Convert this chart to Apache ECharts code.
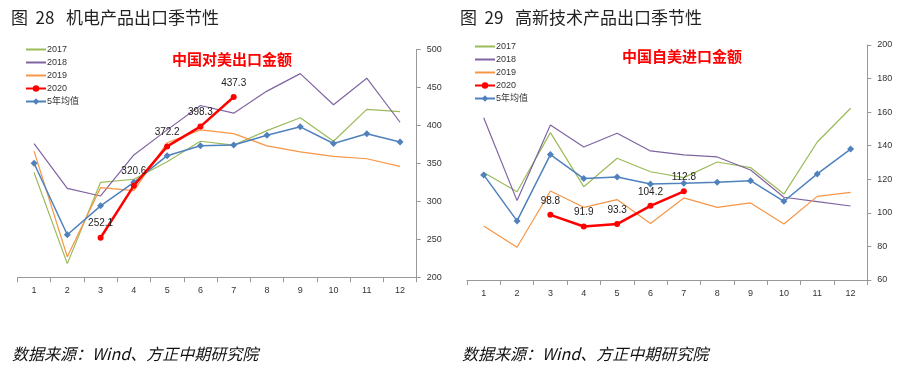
<!DOCTYPE html>
<html><head><meta charset="utf-8">
<script src="https://cdn.jsdelivr.net/npm/echarts@6/dist/echarts.min.js"></script>
<style>html,body{margin:0;padding:0;background:#fff}#c{width:903px;height:368px}</style>
</head><body><div id="c"></div>
<script>
const months = ['1','2','3','4','5','6','7','8','9','10','11','12'];
// Chart 28: 机电产品出口
const a2017 = [338,218,325,329,352,379,374,393,410,379,421,418];
const a2018 = [376,317,307,361,394,426,416,445,468,427,462,404];
const a2019 = [366,227,318,314,377,394,389,373,365,359,356,346];
const a2020 = [null,null,252.1,320.6,372.2,398.3,437.3,null,null,null,null,null];
const aAvg  = [350,256,294,325,360,373,374,387,398,376,389,378];
// Chart 29: 高新技术产品出口
const b2017 = [124,112.6,147.8,115.6,132.5,124.5,121,130.3,127,111.2,142.2,162.3];
const b2018 = [156.7,107.3,152.3,139.2,147.4,136.9,134.5,133.3,125.5,109.3,106.7,104.1];
const b2019 = [92.2,79.5,113,103.3,107.9,93.6,108.9,103.3,105.9,93.4,109.8,112.2];
const b2020 = [null,null,98.8,91.9,93.3,104.2,112.8,null,null,null,null,null];
const bAvg  = [122.6,95.2,134.7,120.4,121.4,117.2,117.6,118.2,119.2,106.9,123.2,138];
const seriesNames = ['2017','2018','2019','2020','5年均值'];

const C = {g:'#9bbb59', p:'#8064a2', o:'#f79646', r:'#ff0000', b:'#4f81bd'};
const chart = echarts.init(document.getElementById('c'), null, {renderer:'canvas'});
const fontCN = '"Noto Sans CJK SC","Noto Sans",sans-serif';

function mkSeries(idx, arrs){
  const [s17,s18,s19,s20,avg] = arrs;
  const base = {type:'line', xAxisIndex:idx, yAxisIndex:idx, animation:false};
  return [
    Object.assign({}, base, {name:'2017', data:s17, symbol:'none', lineStyle:{color:C.g,width:1.2}, itemStyle:{color:C.g}}),
    Object.assign({}, base, {name:'2018', data:s18, symbol:'none', lineStyle:{color:C.p,width:1.2}, itemStyle:{color:C.p}}),
    Object.assign({}, base, {name:'2019', data:s19, symbol:'none', lineStyle:{color:C.o,width:1.2}, itemStyle:{color:C.o}}),
    Object.assign({}, base, {name:'5年均值', data:avg, symbol:'diamond', symbolSize:7, lineStyle:{color:C.b,width:1.5}, itemStyle:{color:C.b}}),
    Object.assign({}, base, {name:'2020', data:s20, symbol:'circle', symbolSize:6, z:5, lineStyle:{color:C.r,width:2.5}, itemStyle:{color:C.r},
      label:{show:true, position:'top', distance:6, fontSize:10, color:'#222', fontFamily:'"Liberation Sans",sans-serif'}})
  ];
}

function xAx(i){
  return {type:'category', gridIndex:i, data:months, boundaryGap:true,
    axisLine:{lineStyle:{color:'#999',width:1}},
    axisTick:{show:true, alignWithLabel:false, lineStyle:{color:'#999'}, length:5, inside:false},
    axisLabel:{fontSize:9, color:'#333', margin:9, fontFamily:'"Liberation Sans",sans-serif'},
    splitLine:{show:false}};
}
function yAx(i, min, max, interval){
  return {type:'value', gridIndex:i, position:'right', min:min, max:max, interval:interval,
    axisLine:{show:true, lineStyle:{color:'#999'}},
    axisTick:{show:true, lineStyle:{color:'#999'}, length:4},
    axisLabel:{fontSize:9, color:'#333', margin:10, fontFamily:'"Liberation Sans",sans-serif'},
    splitLine:{show:false}};
}
function legend(left, top){
  const plain = {itemStyle:{opacity:0}};
  return {orient:'vertical', left:left, top:top, itemGap:4, itemWidth:20, itemHeight:8,
    data:[
      Object.assign({name:'2017'}, plain),
      Object.assign({name:'2018'}, plain),
      Object.assign({name:'2019'}, plain),
      {name:'2020'},
      {name:'5年均值'}
    ],
    textStyle:{fontSize:9, color:'#333', padding:[0,0,0,-4], fontFamily:'"Liberation Sans","Noto Sans CJK SC",sans-serif'},
    selectedMode:false};
}

const option = {
  animation:false,
  backgroundColor:'#fff',
  title:[
    {text:'图  28   机电产品出口季节性', left:6, top:4, textStyle:{fontSize:17, fontWeight:'normal', color:'#222', fontFamily:fontCN}},
    {text:'图  29   高新技术产品出口季节性', left:455, top:4, textStyle:{fontSize:17, fontWeight:'normal', color:'#222', fontFamily:fontCN}},
    {text:'中国对美出口金额', left:227, top:47, textAlign:'center', textStyle:{fontSize:15, fontWeight:'bold', color:'#ff0000', fontFamily:'"Noto Sans CJK SC",serif'}},
    {text:'中国自美进口金额', left:677, top:44, textAlign:'center', textStyle:{fontSize:15, fontWeight:'bold', color:'#ff0000', fontFamily:'"Noto Sans CJK SC",serif'}},
    {text:'数据来源：Wind、方正中期研究院', left:7, top:341, textStyle:{fontSize:16, fontWeight:'normal', fontStyle:'italic', color:'#111', fontFamily:fontCN}},
    {text:'数据来源：Wind、方正中期研究院', left:457, top:341, textStyle:{fontSize:16, fontWeight:'normal', fontStyle:'italic', color:'#111', fontFamily:fontCN}}
  ],
  legend:[ legend(20, 40), legend(469, 37) ],
  grid:[
    {left:17.4, right:486.3, top:49.3, bottom:90.7},
    {left:467, right:35.7, top:45, bottom:88}
  ],
  xAxis:[xAx(0), xAx(1)],
  yAxis:[yAx(0,200,500,50), yAx(1,60,200,20)],
  series:[].concat(mkSeries(0,[a2017,a2018,a2019,a2020,aAvg]), mkSeries(1,[b2017,b2018,b2019,b2020,bAvg]))
};
chart.setOption(option);
</script></body></html>
